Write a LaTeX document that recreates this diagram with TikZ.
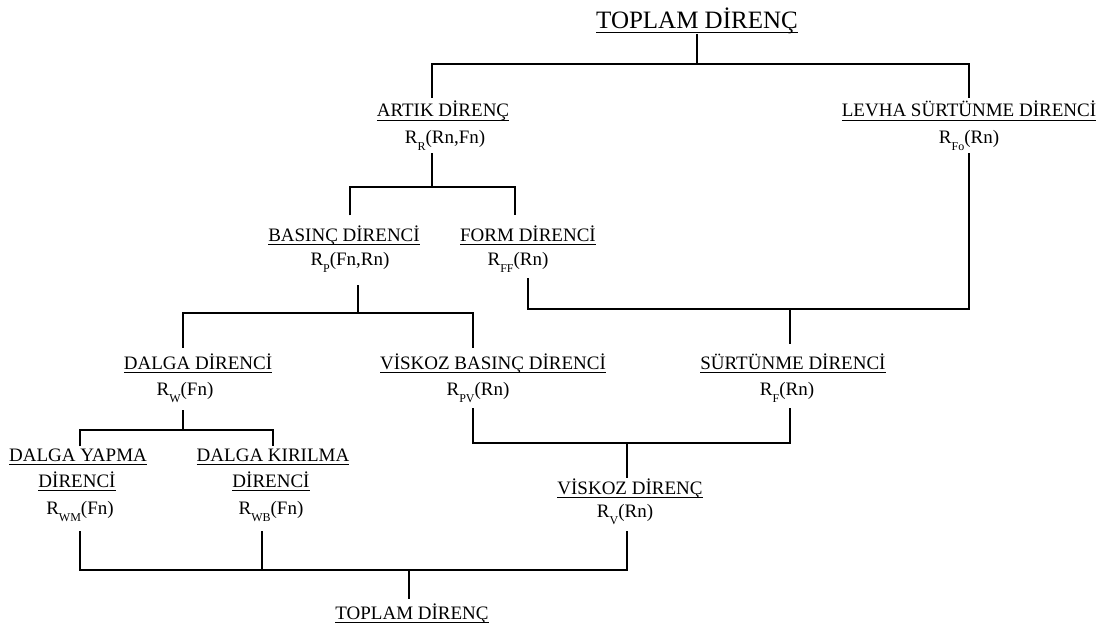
\documentclass[tikz,border=0pt]{standalone}
\usepackage{fontspec}
\setmainfont{Liberation Serif}
\usepackage{tikz}
\newcommand{\rsub}[2]{R\raisebox{-0.37em}{\fontsize{12}{12}\selectfont #1}(#2)}
\newcommand{\ulab}[1]{\underline{\raisebox{0pt}[\height][2pt]{#1}}}
\begin{document}
\begin{tikzpicture}[x=1pt,y=-1pt,line width=1.9pt,
  lbl/.style={font=\fontsize{19}{23}\selectfont,inner sep=0pt,outer sep=4pt,anchor=base},
  ttl/.style={lbl,font=\fontsize{25}{30}\selectfont,outer sep=1pt}]

\useasboundingbox (0,0) rectangle (1114,626);

\node[ttl](tot) at (697,29){\ulab{TOPLAM DİRENÇ}};
\node[lbl,outer ysep=3.7pt](artik) at (443,117){\ulab{ARTIK DİRENÇ}};
\node[lbl,outer ysep=3pt](artikR) at (445,143){\rsub{R}{Rn,Fn}};
\node[lbl,outer ysep=3.7pt](levha) at (969,117){\ulab{LEVHA SÜRTÜNME DİRENCİ}};
\node[lbl,outer ysep=2.5pt](levhaR) at (969,143){\rsub{Fo}{Rn}};
\node[lbl,outer ysep=10pt](basinc) at (344,241){\ulab{BASINÇ DİRENCİ}};
\node[lbl,outer ysep=13pt](basincR) at (350,265){\rsub{P}{Fn,Rn}};
\node[lbl,outer ysep=10pt](form) at (528,241){\ulab{FORM DİRENCİ}};
\node[lbl,outer ysep=6pt](formR) at (518,265){\rsub{FF}{Rn}};
\node[lbl,outer ysep=5.5pt](dalga) at (198,369){\ulab{DALGA DİRENCİ}};
\node[lbl,outer ysep=8pt](dalgaR) at (185,395){\rsub{W}{Fn}};
\node[lbl,outer ysep=5.5pt](vbas) at (493,369){\ulab{VİSKOZ BASINÇ DİRENCİ}};
\node[lbl,outer ysep=6pt](vbasR) at (478,395){\rsub{PV}{Rn}};
\node[lbl,outer ysep=9pt](surt) at (793,369){\ulab{SÜRTÜNME DİRENCİ}};
\node[lbl,outer ysep=6pt](surtR) at (787,395){\rsub{F}{Rn}};
\node[lbl,outer ysep=2pt](dyap) at (78,461){\ulab{DALGA YAPMA}};
\node[lbl](dyap2) at (77,487){\ulab{DİRENCİ}};
\node[lbl,outer ysep=10pt](dyapR) at (80,514){\rsub{WM}{Fn}};
\node[lbl,outer ysep=2pt](dkir) at (273,461){\ulab{DALGA KIRILMA}};
\node[lbl](dkir2) at (271,487){\ulab{DİRENCİ}};
\node[lbl,outer ysep=10pt](dkirR) at (271,514){\rsub{WB}{Fn}};
\node[lbl,outer ysep=0pt](visk) at (630,494){\ulab{VİSKOZ DİRENÇ}};
\node[lbl,outer ysep=7pt](viskR) at (625,517){\rsub{V}{Rn}};
\node[lbl,outer ysep=4.5pt](totb) at (412,619){\ulab{TOPLAM DİRENÇ}};

\coordinate (a0) at (432,64);
\coordinate (l0) at (969,64);
\coordinate (a1) at (432,187);
\coordinate (b1) at (350,187);
\coordinate (f1) at (515,187);
\coordinate (f2) at (528,309);
\coordinate (s2) at (790,309);
\coordinate (l2) at (969,309);
\coordinate (b3) at (358,313);
\coordinate (d3) at (183,313);
\coordinate (v3) at (473,313);
\coordinate (d4) at (183,430);
\coordinate (y4) at (80,430);
\coordinate (k4) at (273,430);
\coordinate (v5) at (473,443);
\coordinate (s5) at (790,443);
\coordinate (m5) at (627,443);
\coordinate (y6) at (80,570);
\coordinate (k6) at (262,570);
\coordinate (m6) at (627,570);
\coordinate (t6) at (409,570);

\draw (tot.south) -- (tot.south |- a0);
\draw (a0 |- artik.north) -- (a0) -- (l0) -- (l0 |- levha.north);
\draw (a1 |- artikR.south) -- (a1);
\draw (b1 |- basinc.north) -- (b1) -- (f1) -- (f1 |- form.north);
\draw (f2 |- formR.south) -- (f2) -- (l2) -- (l2 |- levhaR.south);
\draw (s2) -- (s2 |- surt.north);
\draw (b3 |- basincR.south) -- (b3);
\draw (d3 |- dalga.north) -- (d3) -- (v3) -- (v3 |- vbas.north);
\draw (d4 |- dalgaR.south) -- (d4);
\draw (y4 |- dyap.north) -- (y4) -- (k4) -- (k4 |- dkir.north);
\draw (v5 |- vbasR.south) -- (v5) -- (s5) -- (s5 |- surtR.south);
\draw (m5) -- (m5 |- visk.north);
\draw (y6 |- dyapR.south) -- (y6) -- (m6) -- (m6 |- viskR.south);
\draw (k6 |- dkirR.south) -- (k6);
\draw (t6) -- (t6 |- totb.north);

\end{tikzpicture}
\end{document}
